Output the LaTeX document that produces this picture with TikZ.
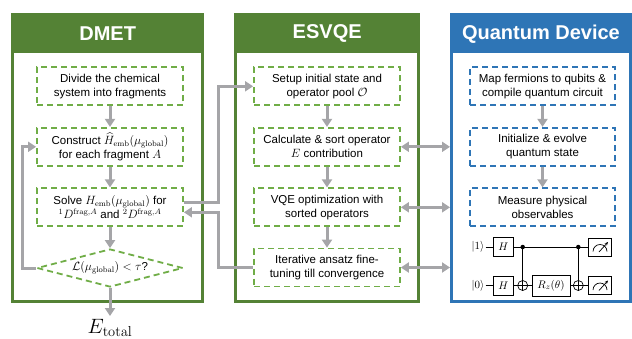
\documentclass[tikz,border=0pt]{standalone}
\usepackage[no-math]{fontspec}
\setmainfont{Liberation Sans}
\usepackage{amsmath}
\usetikzlibrary{arrows.meta,shapes.geometric,calc}
\definecolor{dgreen}{HTML}{548235}
\definecolor{lgreen}{HTML}{70AD47}
\definecolor{qblue}{HTML}{2E75B6}
\definecolor{agray}{HTML}{A5A5A8}
\tikzset{
 colframe/.style={draw, line width=3pt, inner sep=0pt, anchor=north west},
 colhead/.style={inner sep=0pt, anchor=north west, text=white, font=\fontsize{20}{24}\selectfont\bfseries},
 gbox/.style={draw=lgreen, dash pattern=on 6pt off 4pt, line width=1.8pt, minimum width=146pt, minimum height=38pt, inner sep=1pt, align=center, font=\fontsize{11.5}{14}\selectfont},
 bbox/.style={gbox, draw=qblue},
 gdiam/.style={shape=diamond, draw=lgreen, dash pattern=on 6pt off 4pt, line width=1.8pt, aspect=3.84, inner sep=0pt, minimum width=146pt, minimum height=38pt, font=\fontsize{11.5}{14}\selectfont},
 garrow/.style={draw=agray, line width=3pt, -{Triangle[length=8pt,width=10pt]}},
 darrow/.style={draw=agray, line width=3pt, {Triangle[length=8pt,width=10pt]}-{Triangle[length=8pt,width=10pt]}},
 gate/.style={draw, line width=0.7pt, fill=white, minimum width=20pt, minimum height=19pt, inner sep=0pt, font=\fontsize{11}{13}\selectfont},
 wire/.style={line width=0.7pt},
 ctrl/.style={circle, fill, inner sep=0pt, minimum size=4.5pt},
 targ/.style={circle, draw, line width=0.7pt, inner sep=0pt, minimum size=10pt},
}
\begin{document}
\begin{tikzpicture}[x=1pt,y=-1pt]
\useasboundingbox (0,0) rectangle (632,338);
% headers
\node[colhead, fill=dgreen, minimum width=190pt, minimum height=38.5pt] (dhead) at (12.5,14.5) {DMET};
\node[colhead, fill=dgreen, minimum width=183pt, minimum height=38.5pt] (ehead) at (235.5,14.5) {ESVQE};
\node[colhead, fill=qblue, minimum width=178.5pt, minimum height=38.5pt] (qhead) at (451.5,14.5) {Quantum Device};
% frames
\node[colframe, draw=dgreen, minimum width=190pt, minimum height=286.5pt] (dframe) at (11,13) {};
\node[colframe, draw=dgreen, minimum width=183pt, minimum height=286.5pt] (eframe) at (234,13) {};
\node[colframe, draw=qblue, minimum width=178.5pt, minimum height=286.5pt] (qframe) at (450,13) {};
% DMET
\node[gbox] (d1) at (110,86.3) {Divide the chemical\\system into fragments};
\node[gbox] (d2) at (110,146.8) {Construct $\widehat{H}_{\mathrm{emb}}(\mu_{\mathrm{global}})$\\for each fragment $A$};
\node[gbox] (d3) at (110,207.3) {Solve $H_{\mathrm{emb}}(\mu_{\mathrm{global}})$ for\\${}^1D^{\mathrm{frag},A}$ and ${}^2D^{\mathrm{frag},A}$};
\node[gdiam] (d4) at (110,268) {$\mathcal{L}(\mu_{\mathrm{global}})<\tau$?};
\node[inner sep=0pt, outer sep=3pt, anchor=north, font=\fontsize{21}{24}\selectfont] (et) at (110,316) {$E_{\mathrm{total}}$};
% ESVQE
\node[gbox] (e1) at (327,86.3) {Setup initial state and\\operator pool $\mathcal{O}$};
\node[gbox] (e2) at (327,146.8) {Calculate \& sort operator\\$E$ contribution};
\node[gbox] (e3) at (327,207.3) {VQE optimization with\\sorted operators};
\node[gbox] (e4) at (327,267.5) {Iterative ansatz fine-\\tuning till convergence};
% Quantum device
\node[bbox, minimum width=145pt] (q1) at (542.5,86.3) {Map fermions to qubits \&\\compile quantum circuit};
\node[bbox, minimum width=145pt] (q2) at (542.5,146.8) {Initialize \& evolve\\quantum state};
\node[bbox, minimum width=145pt] (q3) at (542.5,207.3) {Measure physical\\observables};
% arrows DMET
\draw[garrow] (d1.south) -- (d2.north);
\draw[garrow] (d2.south) -- (d3.north);
\draw[garrow] (d3.south) -- (d4.north);
\draw[garrow] (d4.south) -- (et.north);
\draw[garrow] (d4.west) -- ++(-14,0) |- (d2.west);
% arrows ESVQE
\draw[garrow] (e1.south) -- (e2.north);
\draw[garrow] (e2.south) -- (e3.north);
\draw[garrow] (e3.south) -- (e4.north);
% arrows QD
\draw[garrow] (q1.south) -- (q2.north);
\draw[garrow] (q2.south) -- (q3.north);
% between columns
\draw[garrow] ([yshift=5pt]d3.east) -- ++(34.5,0) |- (e1.west);
\draw[garrow] (e4.west) -- ++(-35,0) |- ([yshift=-5pt]d3.east);
\draw[darrow] (e2.east) -- (e2.east -| qframe.west);
\draw[darrow] (e3.east) -- (e3.east -| qframe.west);
\draw[darrow] (e4.east) -- (e4.east -| qframe.west);
% circuit
\node[inner sep=1pt, font=\fontsize{10.5}{12}\selectfont] (k1) at (478,247) {$|1\rangle$};
\node[inner sep=1pt, font=\fontsize{10.5}{12}\selectfont] (k0) at (478,285.5) {$|0\rangle$};
\node[gate] (h1) at (503.3,247) {$H$};
\node[gate] (h0) at (503.3,285.5) {$H$};
\node[gate, minimum width=38pt, minimum height=21pt] (rz) at (551,285.5) {$R_z(\theta)$};
\node[gate, minimum width=23pt, minimum height=18pt] (m1) at (600,247) {};
\node[gate, minimum width=23pt, minimum height=18pt] (m0) at (600,285.5) {};
\node[targ] (t1) at (522.7,285.5) {};
\node[targ] (t2) at (578.3,285.5) {};
\draw[wire] (k1.east) -- (h1.west);
\draw[wire] (h1.east) -- (m1.west);
\draw[wire] (k0.east) -- (h0.west);
\draw[wire] (h0.east) -- (t1.west);
\draw[wire] (t1.east) -- (rz.west);
\draw[wire] (rz.east) -- (t2.west);
\draw[wire] (t2.east) -- (m0.west);
\node[ctrl] (c1) at (522.7,247) {};
\node[ctrl] (c2) at (578.3,247) {};
\draw[wire] (c1.center) -- (t1.south);
\draw[wire] (c2.center) -- (t2.south);
\draw[wire] (t1.west) -- (t1.east);
\draw[wire] (t2.west) -- (t2.east);
\foreach \m in {m1,m0}{
  \draw[wire] ([xshift=-7pt,yshift=-4.5pt]\m.center) arc (180:0:7pt);
  \draw[wire,-{Stealth[length=3.5pt,width=3pt]}] ([xshift=-1pt,yshift=-5pt]\m.center) -- ([xshift=8pt,yshift=5pt]\m.center);
}
\end{tikzpicture}
\end{document}
